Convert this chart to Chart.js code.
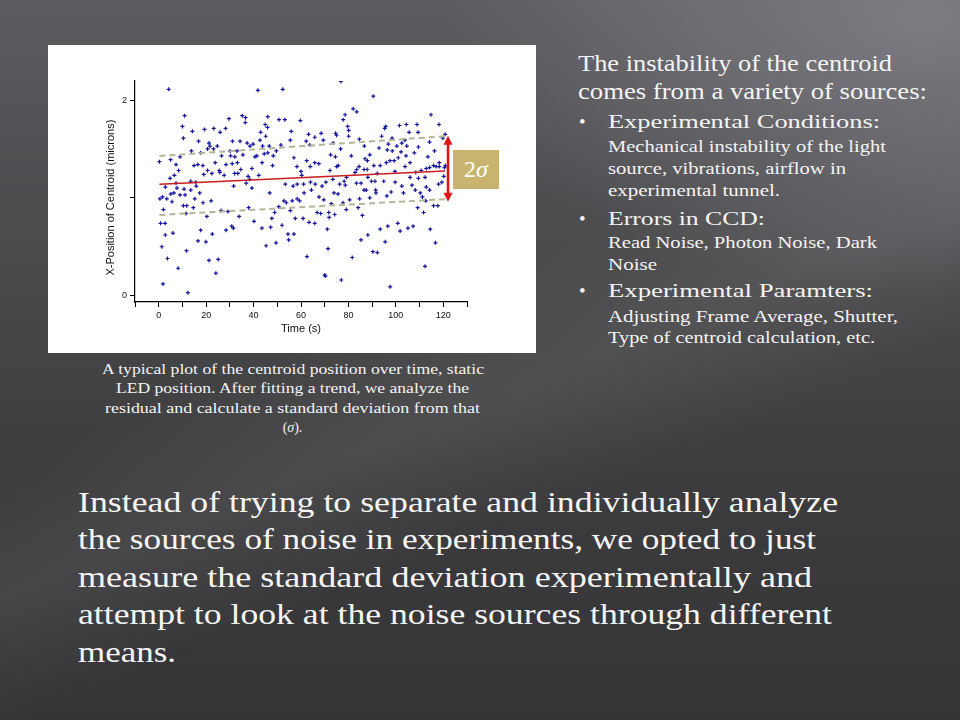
<!DOCTYPE html>
<html><head><meta charset="utf-8">
<script src="https://cdn.jsdelivr.net/npm/chart.js@4.4.1/dist/chart.umd.min.js"></script>
<style>
html,body{margin:0;padding:0;}
body{width:960px;height:720px;overflow:hidden;position:relative;
background:
 radial-gradient(ellipse 50% 38% at 96% 3%, rgba(150,150,158,0.55), rgba(150,150,158,0) 100%),
 linear-gradient(158deg, rgba(255,255,255,0) 42%, rgba(255,255,255,0.07) 54%, rgba(255,255,255,0) 66%),
 linear-gradient(180deg, #5c5c60 0%, #4a4a4d 35%, #3c3c3e 68%, #343436 100%);}
#chartBox{position:absolute;left:48px;top:45px;width:488px;height:308px;background:#fff;}
.t{position:absolute;white-space:pre;color:#f4f4f4;font-family:"Liberation Serif","Times New Roman",serif;line-height:1;transform-origin:0 0;}
#sig{position:absolute;left:453px;top:150px;width:46px;height:39px;background:#c8b46e;color:#fff;font-family:"Liberation Serif",serif;font-size:24px;line-height:39px;text-align:center;}
</style></head>
<body>
<div id="chartBox"><canvas id="c"></canvas></div>
<div id="sig">2<i>σ</i></div>
<script>
// ---- data (time in s, X-position of centroid in microns) ----
const samplePoints = [
[4.2,2.11],[10.9,1.84],[10,1.73],[14.2,1.68],[19.3,1.70],[23.2,1.71],[28.2,1.71],[29.6,1.81],[35.2,1.84],[36.6,1.82],
[36.5,1.77],[25.9,1.67],[10.4,1.61],[16.8,1.58],[21.2,1.56],[21.6,1.53],[24.7,1.53],[31.1,1.58],[34.3,1.58],[37.3,1.56],
[38.5,1.53],[39.8,1.55],[20.6,1.50],[23.1,1.50],[13.8,1.48],[17.7,1.46],[30.1,1.48],[33,1.48],[35.5,1.44],[32.1,1.42],
[26.5,1.43],[30.3,1.43],[9,1.42],[40.6,1.42],[41.4,1.43],[0.3,1.37],[5,1.39],[7.3,1.34],[14.9,1.33],[16.5,1.34],
[18.6,1.33],[23.8,1.36],[31,1.35],[33.2,1.36],[28.4,1.34],[8.4,1.28],[20.6,1.28],[22.4,1.25],[25.5,1.28],[25.8,1.26],
[27.6,1.23],[32,1.25],[33.4,1.25],[34.6,1.29],[39.3,1.30],[6.6,1.23],[19,1.24],[37.7,1.22],[4.8,1.20],[38.4,1.19],
[13.5,1.17],[7.3,1.15],[15.6,1.16],[2.8,1.11],[7.7,1.10],[10.7,1.09],[15.8,1.12],[31.6,1.12],[36.9,1.15],[39.3,1.10],
[76.8,2.19],[52.3,2.11],[41.8,2.10],[82,1.91],[83.5,1.88],[78.6,1.85],[77.8,1.80],[59.7,1.79],[50.7,1.80],[53.2,1.80],
[46,1.83],[44.9,1.75],[45.9,1.72],[79.7,1.73],[80.1,1.69],[55.9,1.68],[43,1.67],[63.2,1.65],[68.5,1.66],[74.6,1.66],
[75,1.64],[65.8,1.62],[80.1,1.63],[45.1,1.63],[42.7,1.59],[55.5,1.59],[62.2,1.58],[69.4,1.59],[84.6,1.60],[51.5,1.54],
[43.8,1.53],[46.6,1.53],[73.6,1.56],[63.7,1.54],[86.7,1.53],[76.7,1.50],[46,1.46],[44.5,1.45],[48.3,1.43],[49.6,1.48],
[72.5,1.44],[74.5,1.42],[81.2,1.43],[57,1.41],[62.4,1.38],[43.6,1.36],[48,1.33],[65.8,1.36],[67.5,1.35],[58.3,1.32],
[63.9,1.32],[75,1.32],[75.7,1.33],[84.5,1.32],[60,1.27],[72.2,1.28],[82.8,1.26],[83.5,1.29],[86.6,1.29],[60.3,1.23],
[42.2,1.23],[79.2,1.21],[73.4,1.19],[78.2,1.17],[83.4,1.15],[53.4,1.14],[56.7,1.12],[58.4,1.14],[61.1,1.14],[64,1.16],
[66,1.14],[68.9,1.12],[70.5,1.16],[76.3,1.14],[78.7,1.13],[85.3,1.15],
[90.5,2.04],[95.3,1.71],[95.7,1.73],[101.5,1.74],[104.4,1.75],[108.9,1.75],[114.8,1.85],[118.2,1.75],[94,1.63],[98.4,1.61],
[105.6,1.67],[109.4,1.67],[114.2,1.57],[102.5,1.56],[103.8,1.59],[119.8,1.61],[120.8,1.65],[92.9,1.51],[96.8,1.55],[100.4,1.53],
[104.6,1.53],[109.5,1.52],[96.4,1.49],[98.5,1.48],[102.2,1.47],[107.8,1.46],[116.3,1.48],[89,1.44],[104.3,1.43],[113.5,1.42],
[87,1.40],[88,1.38],[97.5,1.38],[99.3,1.38],[101,1.41],[90.7,1.33],[93.4,1.33],[96,1.36],[103.9,1.32],[106,1.36],
[115.9,1.33],[117,1.32],[118.3,1.32],[120.5,1.31],[120.9,1.33],[118.3,1.36],[87.9,1.29],[92.2,1.25],[99.6,1.27],[108.4,1.26],
[110.7,1.28],[112.8,1.30],[114.2,1.31],[88.2,1.21],[89.7,1.17],[91.2,1.17],[94.9,1.17],[99.7,1.16],[106,1.21],[109.5,1.20],
[112.3,1.21],[120.2,1.22],[106.8,1.13],[112.8,1.11],[118,1.14],[119.4,1.16],[102.5,1.12],
[5.1,1.04],[6.4,1.05],[0.5,0.99],[1.6,1.01],[3.4,0.99],[5.6,0.96],[9,1.03],[11.1,1.03],[13.5,1.08],[15.2,0.99],
[17.3,1.05],[10.4,0.92],[11.8,0.92],[14.6,0.90],[18.7,0.95],[22.1,0.97],[2,0.88],[11.5,0.84],[20.3,0.81],[26.3,0.87],
[29.2,0.86],[33.9,0.81],[37.9,0.90],[40.2,0.76],[0.8,0.74],[2.7,0.74],[17.7,0.67],[6,0.64],[2.8,0.62],[22.6,0.63],
[28.4,0.67],[30.8,0.71],[31.5,0.69],[16.6,0.56],[19.9,0.55],[1.3,0.50],[11.7,0.46],[3.7,0.38],[21.2,0.36],[25.1,0.37],
[8.2,0.28],[24.1,0.23],[1.8,0.12],[12.3,0.03],
[46.8,1.05],[52.8,0.97],[53.8,0.95],[56.3,0.97],[58.4,0.99],[59.4,0.97],[61.3,1.05],[64.4,1.08],[67.6,1.01],[69.6,0.98],
[73.9,1.05],[75.6,1.04],[72.8,0.94],[77.7,0.95],[80.5,0.98],[79.1,0.88],[84.7,0.99],[84.1,0.90],[86.6,1.08],[50.6,0.91],
[48.9,0.85],[55.5,0.87],[66.8,0.85],[68.3,0.84],[71.7,0.85],[47.7,0.79],[57.6,0.79],[60.9,0.79],[63.4,0.75],[65.8,0.74],
[71.9,0.80],[74.2,0.83],[85.9,0.82],[43.5,0.69],[47.2,0.70],[52,0.72],[71.1,0.68],[54.5,0.63],[57,0.63],[49.5,0.54],
[54.8,0.57],[45.3,0.51],[85.3,0.57],[71.4,0.48],[62.5,0.40],[81.6,0.39],[70,0.21],[70.3,0.20],[77,0.16],
[87.5,1.08],[91.5,1.08],[91.6,1.05],[89,1.00],[96.2,1.02],[98,1.06],[103.2,1.05],[108.2,1.08],[110.3,1.05],[114.2,1.08],
[111.2,1.01],[112.6,0.97],[109.2,0.90],[115.9,0.92],[117.7,0.92],[111.7,0.85],[100.8,0.74],[93.4,0.68],[96.6,0.71],[101.8,0.66],
[105.1,0.69],[107.3,0.71],[114.5,0.68],[88.2,0.62],[95.5,0.55],[116.7,0.54],[90.3,0.45],[92.2,0.44],[112.3,0.30],[97.6,0.09]
];
const trendLine = [[0.3,1.139],[120.7,1.275]];
const upperBand = [[0.3,1.428],[120.7,1.630]];
const lowerBand = [[0.3,0.825],[120.7,0.986]];
const sigmaArrow = {t:122, from:0.96, to:1.636};
const xTickValues = [0,20,40,60,80,100,120];
const yTickValues = [0,1,2];
const yTickLabels = ['0','','2'];
const xAxisTitle = 'Time (s)';
const yAxisTitle = 'X-Position of Centroid (microns)\u00a0\u00a0\u00a0\u00a0';

const toXY = a => a.map(p => ({x:p[0], y:p[1]}));

const arrowPlugin = {
  id:'sigmaArrow',
  afterDatasetsDraw(chart){
    const {ctx, scales:{x,y}} = chart;
    const px = x.getPixelForValue(sigmaArrow.t);
    const yTop = y.getPixelForValue(sigmaArrow.to);
    const yBot = y.getPixelForValue(sigmaArrow.from);
    const hl = 9, hw = 4.5;
    ctx.save();
    ctx.strokeStyle = '#e01414'; ctx.fillStyle = '#e01414'; ctx.lineWidth = 2.6;
    ctx.beginPath(); ctx.moveTo(px, yTop + hl - 1); ctx.lineTo(px, yBot - hl + 1); ctx.stroke();
    ctx.beginPath(); ctx.moveTo(px, yTop); ctx.lineTo(px - hw, yTop + hl); ctx.lineTo(px + hw, yTop + hl); ctx.closePath(); ctx.fill();
    ctx.beginPath(); ctx.moveTo(px, yBot); ctx.lineTo(px - hw, yBot - hl); ctx.lineTo(px + hw, yBot - hl); ctx.closePath(); ctx.fill();
    ctx.restore();
  }
};

const tickFont = {family:'"Liberation Sans", Arial, sans-serif', size:9};
const titleFont = {family:'"Liberation Sans", Arial, sans-serif', size:11};

new Chart(document.getElementById('c'), {
  type:'scatter',
  data:{datasets:[
    {data:toXY(trendLine), showLine:true, borderColor:'#c81e1e', borderWidth:1.5, pointRadius:0},
    {data:toXY(upperBand), showLine:true, borderColor:'#b4b496', borderWidth:2, borderDash:[6,4], pointRadius:0},
    {data:toXY(lowerBand), showLine:true, borderColor:'#b4b496', borderWidth:2, borderDash:[6,4], pointRadius:0},
    {data:toXY(samplePoints), showLine:false, pointStyle:'cross', pointRadius:2, borderColor:'#14149e', backgroundColor:'#14149e', borderWidth:1.2}
  ]},
  options:{
    responsive:true, maintainAspectRatio:false, animation:false,
    layout:{padding:{left:56,right:69,top:36,bottom:17}},
    plugins:{legend:{display:false}, tooltip:{enabled:false}},
    scales:{
      x:{type:'linear', min:-10, max:130,
        ticks:{stepSize:10, autoSkip:false, maxRotation:0, padding:3, color:'#111', font:tickFont,
          callback:v => xTickValues.includes(v) ? String(v) : ''},
        grid:{drawOnChartArea:false, drawTicks:true, tickLength:5, color:'#000', lineWidth:1},
        border:{display:true, color:'#000', width:1.2},
        title:{display:true, text:xAxisTitle, color:'#111', font:titleFont, padding:0},
        afterFit:s => { s.height = 34; }
      },
      y:{type:'linear', min:-0.065, max:2.195,
        afterBuildTicks:s => { s.ticks = yTickValues.map(v => ({value:v})); },
        ticks:{padding:3, color:'#111', font:tickFont,
          callback:v => { const i = yTickValues.indexOf(v); return i >= 0 ? yTickLabels[i] : ''; }},
        grid:{drawOnChartArea:false, drawTicks:true, tickLength:5, color:'#000', lineWidth:1},
        border:{display:true, color:'#000', width:1.2},
        title:{display:true, text:yAxisTitle, color:'#111', font:titleFont, padding:0},
        afterFit:s => { s.width = 31; }
      }
    }
  },
  plugins:[arrowPlugin]
});

// ---- slide text ----
const textLines = [
  ['The instability of the centroid', 578, 71, 24, 314, 'left'],
  ['comes from a variety of sources:', 578, 99.5, 24, 349, 'left'],
  ['•', 579, 127.7, 19, 0, 'left'],
  ['Experimental Conditions:', 608, 127.7, 19, 272, 'left'],
  ['Mechanical instability of the light', 608, 152.3, 16, 278, 'left'],
  ['source, vibrations, airflow in', 608, 174.5, 16, 238, 'left'],
  ['experimental tunnel.', 608, 196.7, 16, 172, 'left'],
  ['•', 579, 225, 19, 0, 'left'],
  ['Errors in CCD:', 608, 225, 19, 157, 'left'],
  ['Read Noise, Photon Noise, Dark', 608, 248.3, 16, 269, 'left'],
  ['Noise', 608, 270.3, 16, 49, 'left'],
  ['•', 579, 296.7, 19, 0, 'left'],
  ['Experimental Paramters:', 608, 296.7, 19, 265, 'left'],
  ['Adjusting Frame Average, Shutter,', 608, 322.3, 16, 290, 'left'],
  ['Type of centroid calculation, etc.', 608, 343.5, 16, 267, 'left'],
  ['A typical plot of the centroid position over time, static', 292.5, 374.3, 14, 382, 'center'],
  ['LED position. After fitting a trend, we analyze the', 292.5, 394, 14, 353, 'center'],
  ['residual and calculate a standard deviation from that', 292.5, 413.5, 14, 375, 'center'],
  ['(<i>σ</i>).', 292.5, 432.7, 14, 0, 'center'],
  ['Instead of trying to separate and individually analyze', 78, 512, 30, 760, 'left'],
  ['the sources of noise in experiments, we opted to just', 78, 549.5, 30, 738, 'left'],
  ['measure the standard deviation experimentally and', 78, 587, 30, 734, 'left'],
  ['attempt to look at the noise sources through different', 78, 624.5, 30, 754, 'left'],
  ['means.', 78, 662, 30, 98, 'left']
];
function placeLine([html, x, base, size, w, align]) {
  const el = document.createElement('div');
  el.className = 't';
  el.innerHTML = html;
  el.style.fontSize = size + 'px';
  document.body.appendChild(el);
  const nat = el.getBoundingClientRect().width;
  const width = w > 0 ? w : nat;
  const s = w > 0 ? w / nat : 1;
  el.style.left = (align === 'center' ? x - width / 2 : x) + 'px';
  el.style.top = (base - 0.8375 * size) + 'px';
  el.style.transform = 'scaleX(' + s.toFixed(4) + ')';
}
textLines.forEach(placeLine);
</script>
</body></html>
